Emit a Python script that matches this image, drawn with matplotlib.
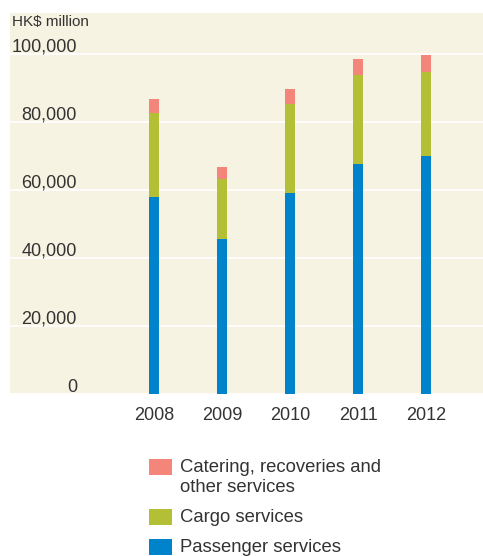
import matplotlib
matplotlib.use("Agg")
import matplotlib.pyplot as plt
from matplotlib.patches import Rectangle
import numpy as np

# Revenue by service, HK$ million
YEARS = ["2008", "2009", "2010", "2011", "2012"]
PASSENGER = [58000, 45600, 59100, 67600, 70000]
CARGO = [24600, 17500, 26300, 26200, 24800]
CATERING = [4200, 3700, 4300, 4700, 4900]

SERIES_NAMES = ["Passenger services", "Cargo services", "Catering, recoveries and\nother services"]
SERIES_COLORS = ["#0083ca", "#b3c035", "#f4857a"]
Y_TICKS = [0, 20000, 40000, 60000, 80000, 100000]

BG = "#f6f3e2"
TEXT = "#333333"
W, H = 483, 556

plt.rcParams["font.family"] = ["Liberation Sans", "DejaVu Sans"]

fig = plt.figure(figsize=(W / 100, H / 100), dpi=100)
ax = fig.add_axes([10 / W, (H - 394) / H, 473 / W, (394 - 13) / H])
ax.set_facecolor(BG)
for spine in ax.spines.values():
    spine.set_visible(False)

x = np.arange(len(YEARS))
bottom = np.zeros(len(YEARS))
for values, color in zip([PASSENGER, CARGO, CATERING], SERIES_COLORS):
    ax.bar(x, values, width=10 / 68, bottom=bottom, color=color, zorder=3, linewidth=0)
    bottom += np.array(values)

ax.set_xlim(-144 / 68, 329 / 68)
ax.set_ylim(0, 381 / 340 * 100000)
ax.set_xticks([])
ax.set_yticks([])

for v in Y_TICKS:
    ax.axhline(v, color="white", linewidth=1.3, zorder=1)
    ax.text((77 - 10) / 473, v + 600, f"{v:,}", transform=ax.get_yaxis_transform(),
            ha="right", va="baseline", fontsize=13, color=TEXT)

for xi, year in zip(x, YEARS):
    ax.text(xi, -(415 - 394) / 340 * 100000, year, ha="center", va="center",
            fontsize=13, color=TEXT, clip_on=False)

fig.text(12 / W, 1 - 22 / H, "HK$ million", ha="left", va="center", fontsize=11, color=TEXT)

# legend, top entry first
legend_rows = [(459, [468, 488]), (509, [517]), (539, [547])]
for (top, centers), name, color in zip(legend_rows, SERIES_NAMES[::-1], SERIES_COLORS[::-1]):
    fig.patches.append(Rectangle((149 / W, 1 - (top + 16) / H), 23 / W, 16 / H,
                                 transform=fig.transFigure, facecolor=color, edgecolor="none"))
    for line, cy in zip(name.split("\n"), centers):
        fig.text(180 / W, 1 - cy / H, line, ha="left", va="center", fontsize=13.3, color=TEXT)

fig.savefig("out.png", dpi=100)
